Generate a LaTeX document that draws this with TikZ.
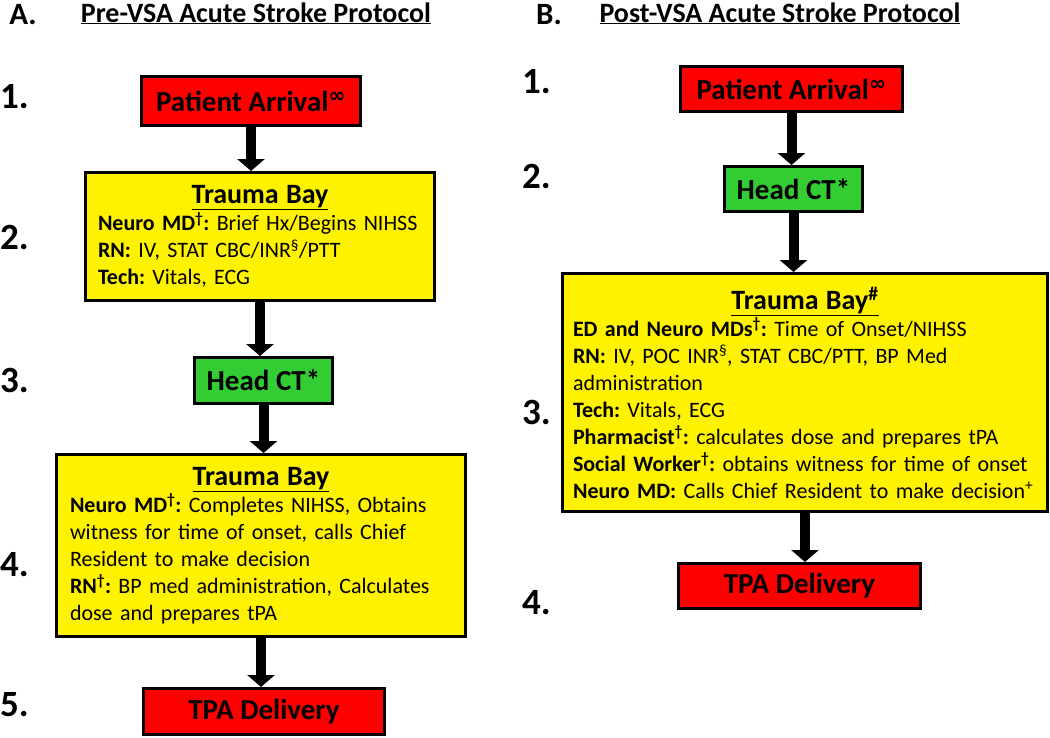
\documentclass[tikz,border=0pt]{standalone}
\usepackage{fontspec}
\setmainfont{Carlito}
\newfontfamily\sgnfont{DejaVu Sans}
\usetikzlibrary{positioning,arrows.meta}
\definecolor{headgreen}{RGB}{51,204,51}
\newcommand{\boxhead}[1]{\centerline{\fontsize{28}{32}\selectfont\bfseries\underline{#1}}}
\newcommand{\infsup}{\textsuperscript{\sgnfont\bfseries ∞}}
\frenchspacing

\begin{document}
\begin{tikzpicture}[x=1pt, y=-1pt,
    box/.style={draw, line width=3pt, inner sep=0pt, align=center, font=\fontsize{29}{33}\selectfont\bfseries},
    redbox/.style={box, fill=red},
    greenbox/.style={box, fill=headgreen, minimum width=138pt, minimum height=46pt},
    yellowbox/.style={draw, line width=3pt, fill=yellow, inner sep=0pt, align=left, font=\fontsize{22}{27}\selectfont},
    stepnum/.style={anchor=west, inner sep=0pt, font=\fontsize{37}{40}\selectfont\bfseries},
    heading/.style={anchor=base, inner sep=0pt, font=\fontsize{28}{32}\selectfont\bfseries},
    flow/.style={line width=10pt, -{Triangle[width=27pt,length=12pt]}}]
  \useasboundingbox (0,0) rectangle (1050,737);

  % A. pre-VSA
  \node (labA) [heading, font=\fontsize{31}{34}\selectfont\bfseries] at (23,24) {A.};
  \node (titA) [heading] at (256,22) {\underline{Pre-VSA Acute Stroke Protocol}};

  \node (paA) [redbox, minimum width=219pt, minimum height=49pt] at (251,101) {Patient Arrival\infsup};
  \node (tbA) [yellowbox, text width=324pt, minimum height=128pt, inner xsep=12.5pt, below=44pt of paA, xshift=9pt] {\boxhead{Trauma Bay}
    \textbf{Neuro MD\textsuperscript{\dag}:} Brief Hx/Begins NIHSS\\
    \textbf{RN:} IV, STAT CBC/INR\textsuperscript{\S}/PTT\\
    \textbf{Tech:} Vitals, ECG};
  \node (ctA) [greenbox, below=54pt of tbA, xshift=3.5pt] {Head CT*};
  \node (tbB) [yellowbox, text width=382pt, minimum height=182pt, inner xsep=13.5pt, below=48pt of ctA, xshift=-2.5pt] {\boxhead{Trauma Bay}
    \textbf{Neuro MD\textsuperscript{\dag}:} Completes NIHSS, Obtains\\
    witness for time of onset, calls Chief\\
    Resident to make decision\\
    \textbf{RN\textsuperscript{\dag}:} BP med administration, Calculates\\
    dose and prepares tPA};
  \node (tpaA) [redbox, minimum width=241pt, minimum height=46pt, below=49pt of tbB, xshift=3pt] {TPA Delivery};

  \draw[flow] (paA.south) -- (paA.south |- tbA.north);
  \draw[flow] (tbA.south) -- (tbA.south |- ctA.north);
  \draw[flow] (ctA.south) -- (ctA.south |- tbB.north);
  \draw[flow] (tbB.south) -- (tbB.south |- tpaA.north);

  \node (sA1) [stepnum] at (0,97) {1.};
  \node (sA2) [stepnum] at (0,237) {2.};
  \node (sA3) [stepnum] at (0,380) {3.};
  \node (sA4) [stepnum] at (0,565) {4.};
  \node (sA5) [stepnum] at (0,705) {5.};

  % B. post-VSA
  \node (labB) [heading, font=\fontsize{31}{34}\selectfont\bfseries] at (549,24) {B.};
  \node (titB) [heading] at (780,22) {\underline{Post-VSA Acute Stroke Protocol}};

  \node (paB) [redbox, minimum width=222pt, minimum height=45pt] at (791.5,89) {Patient Arrival\infsup};
  \node (ctB) [greenbox, minimum height=45pt, below=52pt of paB, xshift=2pt] {Head CT*};
  \node (tbC) [yellowbox, text width=464pt, minimum height=238pt, inner xsep=10.5pt, below=59pt of ctB, xshift=11.5pt] {\boxhead{Trauma Bay\textsuperscript{\#}}
    \textbf{ED and Neuro MDs\textsuperscript{\dag}:} Time of Onset/NIHSS\\
    \textbf{RN:} IV, POC INR\textsuperscript{\S}, STAT CBC/PTT, BP Med\\
    administration\\
    \textbf{Tech:} Vitals, ECG\\
    \textbf{Pharmacist\textsuperscript{\dag}:} calculates dose and prepares tPA\\
    \textbf{Social Worker\textsuperscript{\dag}:} obtains witness for time of onset\\
    \textbf{Neuro MD:} Calls Chief Resident to make decision\textsuperscript{+}};
  \node (tpaB) [redbox, minimum width=242pt, minimum height=45pt, below=49pt of tbC, xshift=-5.5pt] {TPA Delivery};

  \draw[flow] (paB.south) -- (paB.south |- ctB.north);
  \draw[flow] (ctB.south) -- (ctB.south |- tbC.north);
  \draw[flow] (tbC.south) -- (tbC.south |- tpaB.north);

  \node (sB1) [stepnum] at (522,82) {1.};
  \node (sB2) [stepnum] at (522,176) {2.};
  \node (sB3) [stepnum] at (522,412) {3.};
  \node (sB4) [stepnum] at (522,603) {4.};
\end{tikzpicture}
\end{document}
